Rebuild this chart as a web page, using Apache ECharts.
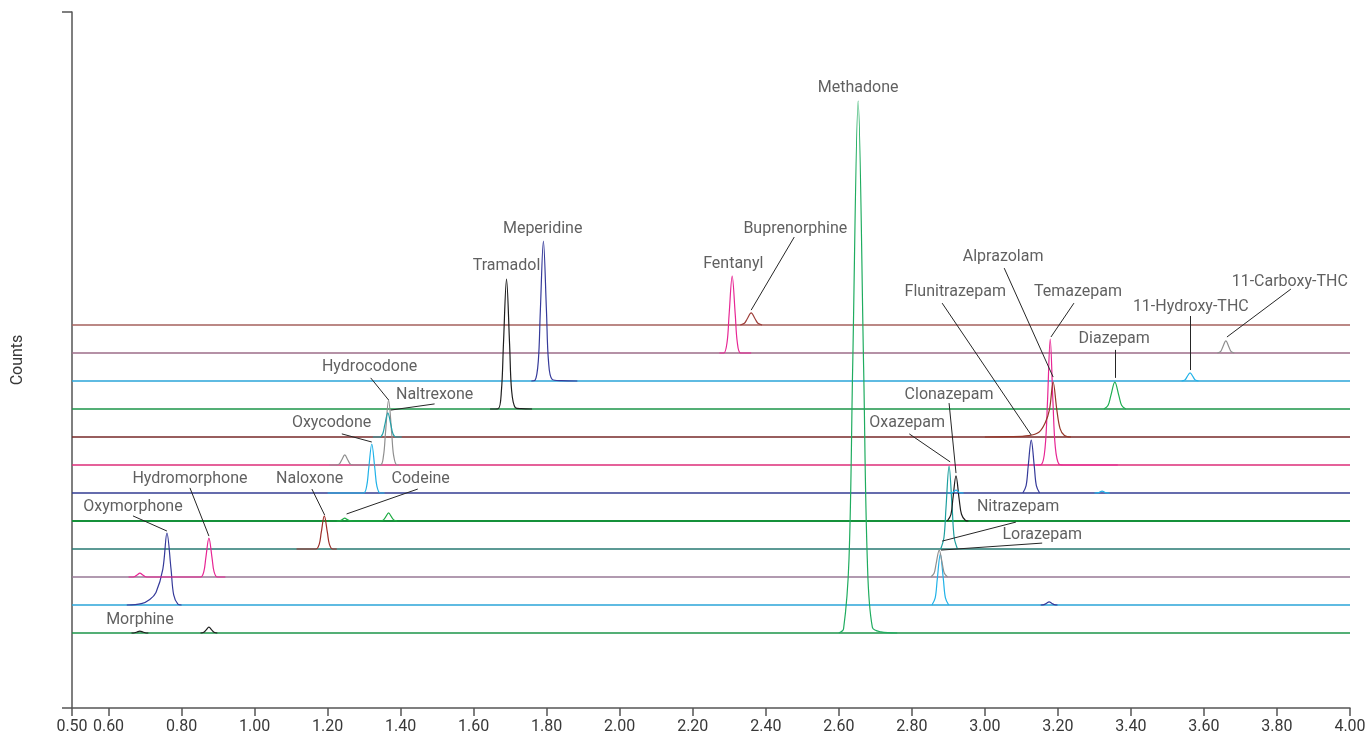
<!DOCTYPE html>
<html>
<head>
<meta charset="utf-8">
<title>Chromatogram</title>
<script src="https://cdn.jsdelivr.net/npm/echarts@6/dist/echarts.min.js"></script>
<style>
  html, body { margin: 0; padding: 0; background: #fff; }
  #chart { width: 1369px; height: 746px; }
</style>
</head>
<body>
<div id="chart"></div>
<script>
// x axis tick labels (retention time, min)
const timeTicks = [0.5, 0.6, 0.8, 1.0, 1.2, 1.4, 1.6, 1.8, 2.0, 2.2, 2.4, 2.6, 2.8, 3.0, 3.2, 3.4, 3.6, 3.8, 4.0];

// baseline colour of each stacked trace, bottom row first
const rowColors = ['#1b9449', '#2aa4d8', '#977896', '#267872', '#15913a', '#323b92',
                   '#dc2d78', '#762828', '#1b9449', '#2aa4d8', '#9c6c89', '#a4605c'];

// peaks: [time, counts above the row baseline], one list per segment
const morphine = [[[0.663,0],[0.672,0.01],[0.678,0.035],[0.686,0.07],[0.694,0.035],[0.700,0.01],[0.709,0]],
                  [[0.852,0],[0.861,0.03],[0.867,0.105],[0.875,0.21],[0.883,0.105],[0.889,0.03],[0.898,0]]];
const methadone = [[[2.600,0],[2.613,0.15],[2.628,2.66],[2.638,9.5],[2.653,19.0],[2.668,9.5],[2.678,2.66],[2.692,0.2],[2.715,0.04],[2.76,0]]];
const oxymorphone = [[[0.650,0],[0.690,0.05],[0.713,0.2],[0.730,0.45],[0.7488,1.285],[0.760,2.57],[0.7712,1.285],[0.7785,0.36],[0.790,0.03],[0.800,0]],
                     [[3.153,0],[3.162,0.015],[3.168,0.055],[3.176,0.11],[3.184,0.055],[3.190,0.015],[3.199,0]]];
const lorazepam = [[[2.855,0],[2.864,0.255],[2.8696,0.91],[2.878,1.82],[2.8864,0.91],[2.892,0.255],[2.901,0]]];
const hydromorphone = [[[0.655,0],[0.663,0],[0.672,0.02],[0.678,0.07],[0.686,0.14],[0.694,0.07],[0.700,0.02],[0.709,0],
                        [0.852,0],[0.861,0.195],[0.8666,0.695],[0.875,1.39],[0.8834,0.695],[0.889,0.195],[0.898,0],[0.92,0]]];
const nitrazepam = [[[2.852,0],[2.861,0.134],[2.8666,0.48],[2.875,0.96],[2.8834,0.48],[2.889,0.134],[2.898,0]]];
const naloxone = [[[1.115,0],[1.168,0],[1.177,0.165],[1.1826,0.59],[1.191,1.18],[1.1994,0.59],[1.205,0.165],[1.214,0],[1.225,0]]];
const oxazepam = [[[2.879,0],[2.888,0.41],[2.8936,1.48],[2.902,2.96],[2.9104,1.48],[2.916,0.41],[2.925,0]]];
const codeine = [[[1.225,0],[1.235,0.015],[1.240,0.05],[1.247,0.10],[1.254,0.05],[1.260,0.015],[1.270,0],
                  [1.345,0],[1.353,0.04],[1.359,0.145],[1.367,0.29],[1.375,0.145],[1.381,0.04],[1.390,0]]];
const clonazepam = [[[2.897,0],[2.907,0.225],[2.9126,0.805],[2.921,1.61],[2.9294,0.805],[2.936,0.24],[2.947,0.02],[2.955,0]]];
const oxycodone = [[[1.200,0],[1.298,0],[1.307,0.245],[1.3126,0.875],[1.321,1.75],[1.3294,0.875],[1.335,0.245],[1.344,0],[1.356,0]],
                   [[2.900,0],[2.912,0.02],[2.921,0.1],[2.930,0.02],[2.942,0]],
                   [[3.300,0],[3.312,0.015],[3.321,0.07],[3.330,0.015],[3.342,0]]];
const flunitrazepam = [[[3.104,0],[3.113,0.265],[3.1186,0.945],[3.127,1.89],[3.1354,0.945],[3.141,0.265],[3.150,0]]];
const hydrocodone = [[[1.205,0],[1.224,0],[1.233,0.05],[1.2386,0.18],[1.247,0.36],[1.2554,0.18],[1.261,0.05],[1.270,0],
                      [1.344,0],[1.353,0.325],[1.3586,1.16],[1.367,2.32],[1.3754,1.16],[1.381,0.325],[1.390,0],[1.395,0]]];
const temazepam = [[[3.140,0],[3.155,0.02],[3.165,0.63],[3.1715,2.25],[3.179,4.5],[3.1865,2.25],[3.193,0.63],[3.203,0.03],[3.215,0],[3.364,0]]];
const naltrexone = [[[1.324,0],[1.342,0],[1.351,0.12],[1.3566,0.43],[1.365,0.86],[1.3734,0.43],[1.379,0.12],[1.388,0],[1.403,0]]];
const alprazolam = [[[3.000,0],[3.066,0.01],[3.120,0.05],[3.148,0.17],[3.165,0.5],[3.177,0.98],[3.187,1.96],[3.197,0.98],[3.206,0.3],[3.218,0.05],[3.236,0]]];
const tramadol = [[[1.645,0],[1.667,0.01],[1.676,0.65],[1.6816,2.32],[1.690,4.64],[1.6984,2.32],[1.704,0.65],[1.714,0.05],[1.730,0.01],[1.760,0]]];
const diazepam = [[[3.326,0],[3.3375,0.134],[3.345,0.48],[3.356,0.96],[3.367,0.48],[3.3745,0.134],[3.386,0]]];
const meperidine = [[[1.758,0],[1.768,0.02],[1.777,0.7],[1.7826,2.5],[1.791,5.0],[1.7994,2.5],[1.805,0.7],[1.815,0.06],[1.840,0.01],[1.884,0]]];
const hydroxyThc = [[[3.539,0],[3.548,0.04],[3.5536,0.145],[3.562,0.29],[3.5704,0.145],[3.576,0.04],[3.585,0]]];
const fentanyl = [[[2.273,0],[2.285,0],[2.294,0.385],[2.2996,1.375],[2.308,2.75],[2.3164,1.375],[2.322,0.385],[2.331,0],[2.360,0]]];
const carboxyThc = [[[3.637,0],[3.646,0.06],[3.6516,0.215],[3.660,0.43],[3.6684,0.215],[3.674,0.06],[3.683,0]]];
const buprenorphine = [[[2.330,0],[2.3415,0.06],[2.349,0.215],[2.360,0.43],[2.371,0.215],[2.3785,0.06],[2.390,0]]];

// which row each trace sits on, and its colour
const traces = [
  ['Morphine', morphine, 0, '#1e1e1e'],
  ['Methadone', methadone, 0, '#1fac5f'],
  ['Oxymorphone', oxymorphone, 1, '#353a9a'],
  ['Lorazepam', lorazepam, 1, '#21b2e8'],
  ['Hydromorphone', hydromorphone, 2, '#e72694'],
  ['Nitrazepam', nitrazepam, 2, '#8f8f8f'],
  ['Naloxone', naloxone, 3, '#9e2d28'],
  ['Oxazepam', oxazepam, 3, '#1c9f9f'],
  ['Codeine', codeine, 4, '#1bab41'],
  ['Clonazepam', clonazepam, 4, '#1e1e1e'],
  ['Oxycodone', oxycodone, 5, '#21b2e8'],
  ['Flunitrazepam', flunitrazepam, 5, '#353a9a'],
  ['Hydrocodone', hydrocodone, 6, '#8f8f8f'],
  ['Temazepam', temazepam, 6, '#e72694'],
  ['Naltrexone', naltrexone, 7, '#26a0a8'],
  ['Alprazolam', alprazolam, 7, '#953628'],
  ['Tramadol', tramadol, 8, '#1e1e1e'],
  ['Diazepam', diazepam, 8, '#1eae51'],
  ['Meperidine', meperidine, 9, '#353a9a'],
  ['11-Hydroxy-THC', hydroxyThc, 9, '#21b2e8'],
  ['Fentanyl', fentanyl, 10, '#e72694'],
  ['11-Carboxy-THC', carboxyThc, 10, '#8f8f8f'],
  ['Buprenorphine', buprenorphine, 11, '#9e3f3a']
];

// label layout: [text, label centre, leader start, leader end] in axis units
const labels = [
  ['Methadone', [2.653, 22.14]],
  ['Meperidine', [1.789, 17.11]],
  ['Tramadol', [1.690, 15.79]],
  ['Fentanyl', [2.311, 15.86]],
  ['Buprenorphine', [2.481, 17.11], [2.478, 16.82], [2.360, 14.21]],
  ['Hydrocodone', [1.315, 12.18], [1.318, 11.79], [1.367, 11.0]],
  ['Naltrexone', [1.493, 11.18], [1.493, 10.86], [1.373, 10.64]],
  ['Oxycodone', [1.211, 10.18], [1.239, 9.79], [1.321, 9.5]],
  ['Naloxone', [1.151, 8.18], [1.157, 7.82], [1.192, 6.89]],
  ['Codeine', [1.455, 8.18], [1.447, 7.82], [1.252, 6.93]],
  ['Hydromorphone', [0.823, 8.18], [0.823, 7.86], [0.875, 6.14]],
  ['Oxymorphone', [0.667, 7.18], [0.667, 6.86], [0.760, 6.32]],
  ['Morphine', [0.686, 3.14]],
  ['Oxazepam', [2.787, 10.18], [2.793, 9.79], [2.905, 8.79]],
  ['Clonazepam', [2.902, 11.18], [2.902, 10.89], [2.921, 8.39]],
  ['Nitrazepam', [3.091, 7.18], [3.085, 6.64], [2.883, 5.96]],
  ['Lorazepam', [3.157, 6.18], [3.157, 5.89], [2.880, 5.64]],
  ['Flunitrazepam', [2.919, 14.86], [2.883, 14.46], [3.127, 9.75]],
  ['Alprazolam', [3.050, 16.11], [3.053, 15.71], [3.187, 11.82]],
  ['Temazepam', [3.255, 14.86], [3.244, 14.46], [3.181, 13.25]],
  ['Diazepam', [3.354, 13.18], [3.356, 12.79], [3.356, 11.79]],
  ['11-Hydroxy-THC', [3.564, 14.32], [3.562, 14.0], [3.562, 12.07]],
  ['11-Carboxy-THC', [3.835, 15.21], [3.838, 14.96], [3.663, 13.25]]
];

const Y_MAX = 696 / 28;   // plot height in row steps
const ROW_BASE = 75 / 28; // counts offset of the bottom trace
const ROW_STEP = 1;       // counts offset between traces
const T_MIN = 0.5, T_MAX = 4.0;
const FONT = 'Roboto, "Liberation Sans Narrow", "DejaVu Sans Condensed", sans-serif';
const TEXT = '#383838';

const rowOffset = (row) => ROW_BASE + row * ROW_STEP;

const series = [];

// row baselines
rowColors.forEach((color, row) => {
  series.push({
    type: 'line',
    data: [[T_MIN, rowOffset(row)], [T_MAX, rowOffset(row)]],
    symbol: 'none',
    silent: true,
    lineStyle: { color: color, width: row === 4 ? 2 : 1.3 },
    z: 1
  });
});

// traces
traces.forEach(([name, segments, row, color]) => {
  segments.forEach((seg) => {
    series.push({
      name: name,
      type: 'line',
      data: seg.map(([t, c]) => [t, c + rowOffset(row)]),
      symbol: 'none',
      smooth: 0.35,
      silent: true,
      lineStyle: { color: color, width: 1.2 },
      z: 3
    });
  });
});

// leader lines
series.push({
  type: 'lines',
  coordinateSystem: 'cartesian2d',
  silent: true,
  lineStyle: { color: '#262626', width: 1, opacity: 1 },
  data: labels.filter((l) => l[2]).map((l) => ({ coords: [l[2], l[3]] })),
  z: 4
});

// compound names
series.push({
  type: 'scatter',
  symbolSize: 0,
  silent: true,
  data: labels.map((l) => ({ name: l[0], value: l[1] })),
  label: {
    show: true,
    position: 'inside',
    formatter: '{b}',
    color: TEXT,
    fontFamily: FONT,
    fontSize: 16
  },
  z: 5
});

const chart = echarts.init(document.getElementById('chart'));
chart.setOption({
  animation: false,
  backgroundColor: '#ffffff',
  grid: { left: 72, right: 19, top: 12, bottom: 38, containLabel: false },
  xAxis: {
    type: 'value',
    min: T_MIN,
    max: T_MAX,
    axisLine: { show: true, lineStyle: { color: '#555', width: 1.5 } },
    axisTick: { show: true, length: 8, customValues: timeTicks, lineStyle: { color: '#555', width: 1.5 } },
    axisLabel: {
      customValues: timeTicks,
      formatter: (v) => v.toFixed(2),
      color: TEXT,
      fontFamily: FONT,
      fontSize: 16,
      margin: 11
    },
    splitLine: { show: false }
  },
  yAxis: {
    type: 'value',
    min: 0,
    max: Y_MAX,
    name: 'Counts',
    nameLocation: 'middle',
    nameRotate: 90,
    nameGap: 46,
    nameTextStyle: { color: TEXT, fontFamily: FONT, fontSize: 16 },
    axisLine: { show: true, lineStyle: { color: '#555', width: 1.5 } },
    axisTick: { show: true, length: 10, customValues: [0, Y_MAX], lineStyle: { color: '#555', width: 1.5 } },
    axisLabel: { show: false },
    splitLine: { show: false }
  },
  series: series
});
</script>
</body>
</html>
